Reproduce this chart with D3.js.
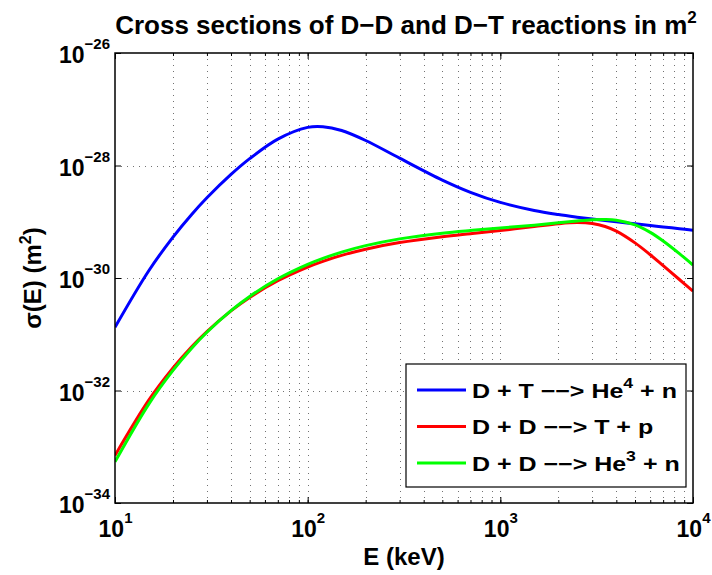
<!DOCTYPE html>
<html>
<head>
<meta charset="utf-8">
<script src="https://cdn.jsdelivr.net/npm/d3@7"></script>
<style>
  body { margin: 0; background: #fff; }
  svg text { font-family: "Liberation Sans", Arial, Helvetica, sans-serif; font-weight: bold; fill: #000; }
</style>
</head>
<body>
<div id="chart"></div>
<script>
// deuteron energy, keV
var energy = [10, 15, 20, 25, 30, 40, 50, 70, 100, 120, 150, 200, 300, 500, 700,
  1000, 1500, 2000, 2500, 3000, 3500, 4000, 5000, 6000, 7000, 8500, 10000];

// cross sections, m^2
var sigmaDT = [1.33e-31, 1.359e-30, 5.336e-30, 1.349e-29, 2.668e-29, 6.938e-29, 1.325e-28,
  2.950e-28, 4.762e-28, 4.903e-28, 4.185e-28, 2.782e-28, 1.350e-28, 5.513e-29, 3.341e-29,
  2.207e-29, 1.586e-29, 1.342e-29, 1.207e-29, 1.117e-29, 1.051e-29, 9.98e-30, 9.18e-30,
  8.58e-30, 8.09e-30, 7.52e-30, 7.06e-30];
var sigmaDDp = [7.01e-34, 6.80e-33, 2.516e-32, 5.99e-32, 1.117e-31, 2.600e-31, 4.512e-31,
  8.943e-31, 1.569e-30, 1.98e-30, 2.524e-30, 3.253e-30, 4.259e-30, 5.414e-30, 6.142e-30,
  6.99e-30, 8.21e-30, 9.20e-30, 9.66e-30, 9.32e-30, 8.24e-30, 6.80e-30, 4.21e-30,
  2.59e-30, 1.66e-30, 9.4e-31, 5.85e-31];
var sigmaDDn = [5.385e-34, 5.786e-33, 2.277e-32, 5.65e-32, 1.086e-31, 2.637e-31, 4.709e-31,
  9.676e-31, 1.75e-30, 2.236e-30, 2.886e-30, 3.763e-30, 4.965e-30, 6.272e-30, 7.005e-30,
  7.746e-30, 8.705e-30, 9.561e-30, 1.030e-29, 1.081e-29, 1.094e-29, 1.061e-29, 8.80e-30,
  6.48e-30, 4.55e-30, 2.71e-30, 1.70e-30];

var xMajor = [10, 100, 1000, 10000];
var yMajor = [1e-34, 1e-32, 1e-30, 1e-28, 1e-26];

// legend text: [before superscript, superscript, after]
var legendLabels = [
  ["D + T \u2212\u2212> He", "4", " + n"],
  ["D + D \u2212\u2212> T + p", "", ""],
  ["D + D \u2212\u2212> He", "3", " + n"]
];
var colors = ["#0000ff", "#ff0000", "#00ff00"];

var W = 712, H = 575;
var margin = {top: 53, right: 19, bottom: 72, left: 115};
var w = W - margin.left - margin.right;
var h = H - margin.top - margin.bottom;

var svg = d3.select("#chart").append("svg").attr("width", W).attr("height", H);
var g = svg.append("g").attr("transform", "translate(" + margin.left + "," + margin.top + ")");

var x = d3.scaleLog().domain([10, 10000]).range([0, w]);
var y = d3.scaleLog().domain([1e-34, 1e-26]).range([h, 0]);

g.append("rect").attr("width", w).attr("height", h).attr("fill", "#fff");

// dotted grid: every x tick, only major y
var gridStyle = function (s) {
  s.attr("stroke", "#000").attr("stroke-width", 1).attr("stroke-dasharray", "1,5").attr("opacity", 0.55);
};
g.append("g").selectAll("line")
  .data(x.ticks().filter(function (d) { return d > 10 && d < 10000; }))
  .join("line")
  .attr("x1", function (d) { return Math.round(x(d)) + 0.5; })
  .attr("x2", function (d) { return Math.round(x(d)) + 0.5; })
  .attr("y1", 0).attr("y2", h)
  .call(gridStyle);
g.append("g").selectAll("line")
  .data(yMajor.slice(1, -1))
  .join("line")
  .attr("y1", function (d) { return Math.round(y(d)) + 0.5; })
  .attr("y2", function (d) { return Math.round(y(d)) + 0.5; })
  .attr("x1", 0).attr("x2", w)
  .call(gridStyle);

// curves
g.append("clipPath").attr("id", "clip").append("rect").attr("width", w).attr("height", h);
var line = d3.line()
  .x(function (d) { return x(d[0]); })
  .y(function (d) { return y(d[1]); })
  .curve(d3.curveCatmullRom);
[sigmaDT, sigmaDDp, sigmaDDn].forEach(function (s, i) {
  g.append("path")
    .datum(energy.map(function (e, j) { return [e, s[j]]; }))
    .attr("clip-path", "url(#clip)")
    .attr("fill", "none")
    .attr("stroke", colors[i])
    .attr("stroke-width", 3)
    .attr("stroke-linejoin", "round")
    .attr("d", line);
});

// ticks (inward) on all four sides
function ticksOnly(axis, vals, size) {
  return axis.tickValues(vals).tickSize(-size).tickSizeOuter(0).tickFormat("");
}
var xMinor = x.ticks();
g.append("g").attr("transform", "translate(0," + h + ")").call(ticksOnly(d3.axisBottom(x), xMinor, 3));
g.append("g").call(ticksOnly(d3.axisTop(x), xMinor, 3));
g.append("g").call(ticksOnly(d3.axisTop(x), xMajor, 6));
g.append("g").attr("transform", "translate(" + w + ",0)").call(ticksOnly(d3.axisRight(y), yMajor, 6));
g.selectAll(".domain").remove();

function powLabels(sel) {
  sel.selectAll(".tick text").each(function (d) {
    var e = Math.round(Math.log10(d));
    var t = d3.select(this).text(null);
    t.append("tspan").text("10");
    t.append("tspan").attr("dy", -14).attr("font-size", 15).text(e < 0 ? "\u2212" + (-e) : e);
  });
}

var xAxis = g.append("g").attr("transform", "translate(0," + h + ")")
  .call(d3.axisBottom(x).tickValues(xMajor).tickSize(-6).tickSizeOuter(0).tickPadding(18))
  .attr("font-size", 23).attr("font-family", null);
xAxis.select(".domain").remove();
powLabels(xAxis);

var yAxis = g.append("g")
  .call(d3.axisLeft(y).tickValues(yMajor).tickSize(-6).tickSizeOuter(0).tickPadding(5))
  .attr("font-size", 23).attr("font-family", null);
yAxis.select(".domain").remove();
yAxis.selectAll(".tick text").attr("dy", "0.43em");
powLabels(yAxis);

// box
g.append("rect").attr("width", w).attr("height", h)
  .attr("fill", "none").attr("stroke", "#000").attr("stroke-width", 1.5);

// legend (its text is wider than Liberation Sans, so stretch it a bit)
var lg = g.append("g").attr("transform", "translate(" + (406 - margin.left) + "," + (364 - margin.top) + ")");
lg.append("rect").attr("width", 280).attr("height", 123)
  .attr("fill", "#fff").attr("stroke", "#000").attr("stroke-width", 1.2);
var legScale = 1;
legendLabels.forEach(function (lab, i) {
  var yy = 26 + i * 36.5;
  lg.append("line").attr("x1", 11).attr("x2", 60).attr("y1", yy).attr("y2", yy)
    .attr("stroke", colors[i]).attr("stroke-width", 3);
  var hold = lg.append("g");
  var t = hold.append("text").attr("font-size", 20.5);
  t.append("tspan").text(lab[0]);
  if (lab[1]) {
    t.append("tspan").attr("dy", -10).attr("font-size", 14.5).text(lab[1]);
    t.append("tspan").attr("dy", 10).text(lab[2]);
  }
  if (i == 0) legScale = 205 / t.node().getBBox().width;
  hold.attr("transform", "translate(66," + (yy + 7.5) + ") scale(" + legScale + ",1)");
});

// title and axis labels
var title = svg.append("text").attr("x", 406).attr("y", 34)
  .attr("text-anchor", "middle").attr("font-size", 26);
title.append("tspan").text("Cross sections of D\u2212D and D\u2212T reactions in m");
title.append("tspan").attr("dy", -11).attr("font-size", 17).text("2");

svg.append("text").attr("x", margin.left + w / 2).attr("y", 565)
  .attr("text-anchor", "middle").attr("font-size", 24).text("E (keV)");

var yl = svg.append("text").attr("transform", "translate(41," + (margin.top + h / 2) + ") rotate(-90)")
  .attr("text-anchor", "middle").attr("font-size", 24);
yl.append("tspan").text("\u03c3(E) (m");
yl.append("tspan").attr("dy", -10).attr("font-size", 16).text("2");
yl.append("tspan").attr("dy", 10).text(")");
</script>
</body>
</html>
